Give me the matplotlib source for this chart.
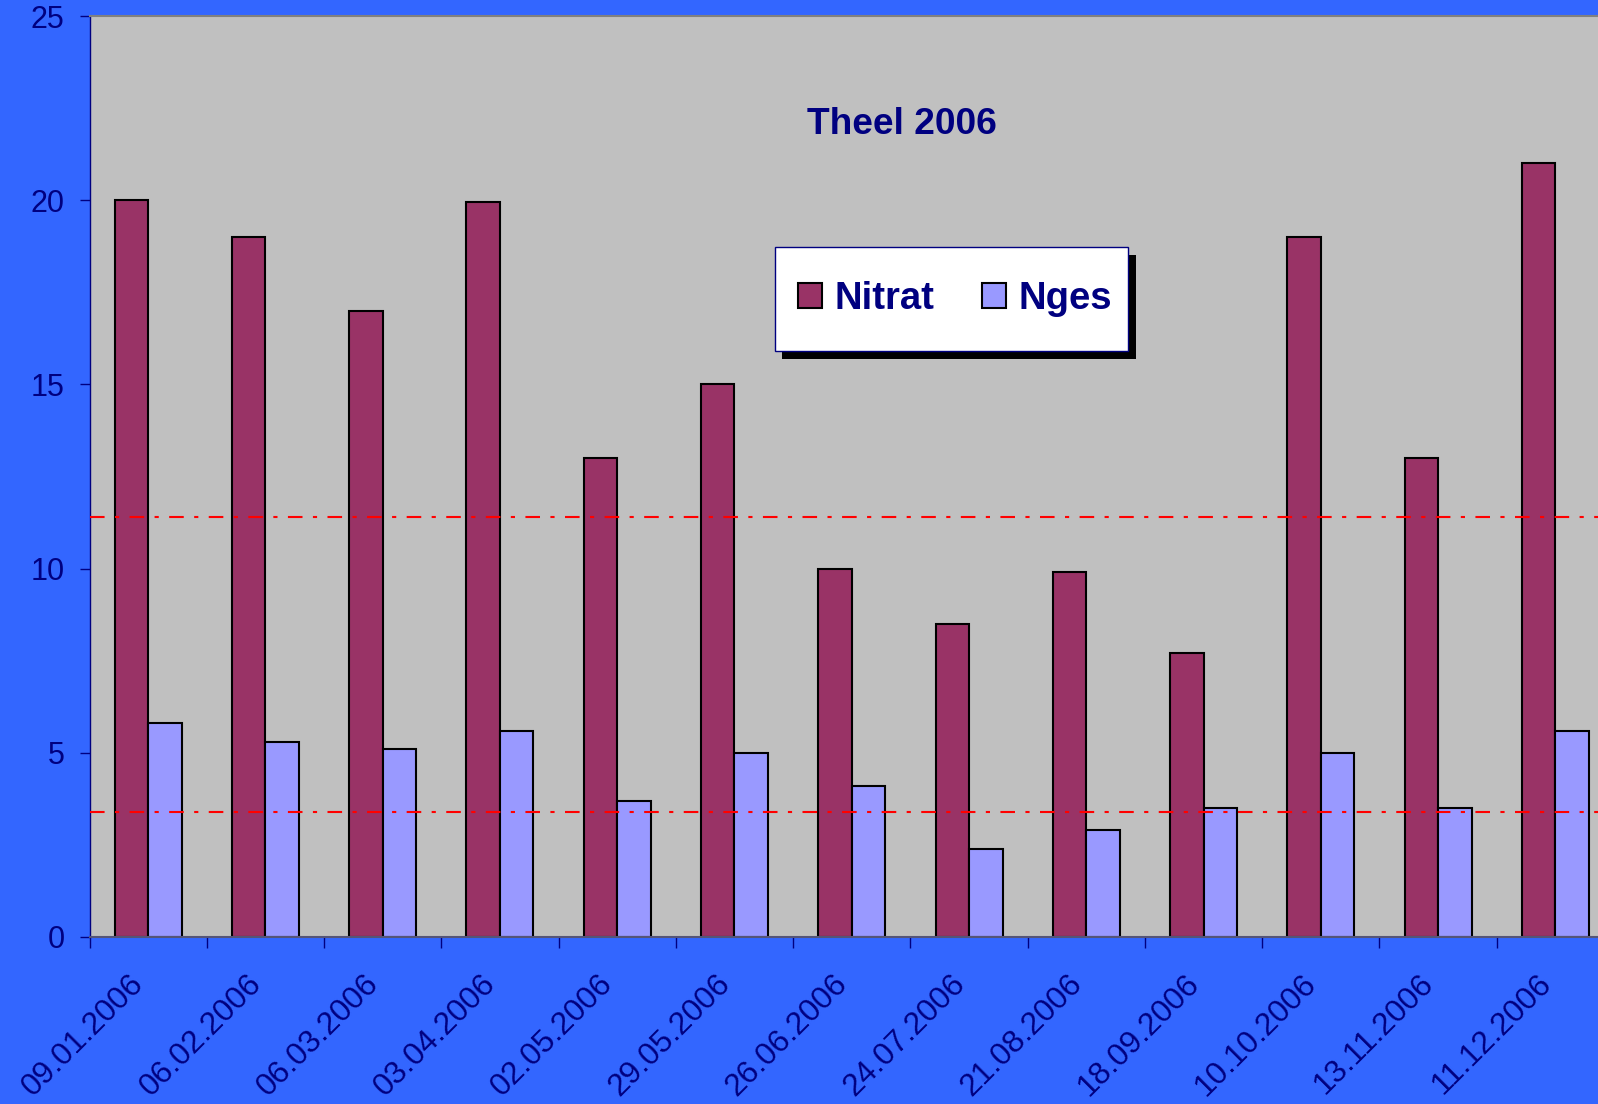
import matplotlib
matplotlib.use("Agg")
import matplotlib.pyplot as plt
import numpy as np
from matplotlib.patches import Rectangle
from matplotlib.transforms import ScaledTranslation

dates = ["09.01.2006", "06.02.2006", "06.03.2006", "03.04.2006", "02.05.2006",
         "29.05.2006", "26.06.2006", "24.07.2006", "21.08.2006", "18.09.2006",
         "10.10.2006", "13.11.2006", "11.12.2006"]
nitrat = [20, 19, 17, 19.95, 13, 15, 10, 8.5, 9.9, 7.7, 19, 13, 21]
nges = [5.8, 5.3, 5.1, 5.6, 3.7, 5.0, 4.1, 2.4, 2.9, 3.5, 5.0, 3.5, 5.6]
ref_lines = [11.4, 3.4]
yticks = [0, 5, 10, 15, 20, 25]
title = "Theel 2006"

NAVY = "#000080"
BG = "#3366FF"
PLOT_BG = "#C0C0C0"
C_NITRAT = "#993366"
C_NGES = "#9999FF"

plt.rcParams['font.family'] = ['Liberation Sans', 'DejaVu Sans']

W, H = 1598, 1104
fig = plt.figure(figsize=(W / 100, H / 100), dpi=100, facecolor=BG)
left_px, right_px, top_px, bot_px = 89.5, 1614, 16, 937
ax = fig.add_axes([left_px / W, 1 - bot_px / H, (right_px - left_px) / W, (bot_px - top_px) / H])
ax.set_facecolor(PLOT_BG)

n = len(dates)
x = np.arange(n)
bw = 1 / 3.5
ax.bar(x - bw / 2, nitrat, bw, color=C_NITRAT, edgecolor="black", linewidth=1.5, label="Nitrat", zorder=2)
ax.bar(x + bw / 2, nges, bw, color=C_NGES, edgecolor="black", linewidth=1.5, label="Nges", zorder=2)

for v in ref_lines:
    ax.axhline(v, color="#FF0000", linewidth=1.5, dashes=(7, 5, 2, 5), zorder=3)

ax.set_xlim(-0.5, n - 0.5)
ax.set_ylim(0, 25)
ax.set_yticks(yticks)
ax.set_yticklabels([str(t) for t in yticks])

ax.set_xticks(np.arange(n + 1) - 0.5)
ax.set_xticklabels([])
ax.set_xticks(x, minor=True)
ax.set_xticklabels(dates, minor=True, rotation=45, ha="right", va="top")

ax.tick_params(axis="y", which="major", direction="out", length=7.2, width=1, color=NAVY,
               labelcolor=NAVY, labelsize=22, pad=10.8)
ax.tick_params(axis="x", which="major", direction="out", length=8, width=1, color=NAVY)
ax.tick_params(axis="x", which="minor", length=0, labelcolor=NAVY, labelsize=22.8, pad=23)
off = ScaledTranslation(2 / 100, 0, fig.dpi_scale_trans)
for lab in ax.get_xticklabels(minor=True):
    lab.set_transform(lab.get_transform() + off)

for s in ["top", "right"]:
    ax.spines[s].set_color("#808080")
    ax.spines[s].set_linewidth(1.5)
ax.spines["left"].set_color(NAVY)
ax.spines["left"].set_linewidth(1)
ax.spines["bottom"].set_color("#555577")
ax.spines["bottom"].set_linewidth(1.5)

fig.text(902 / W, 1 - 124 / H, title, ha="center", va="center", fontsize=26.7,
         fontweight="bold", color=NAVY)

# legend box (frame + shadow drawn as figure-pixel rectangles)
bx0, by0, bx1, by1 = 774.5, 246.7, 1128.3, 350.7
fig.patches.append(Rectangle((bx0 + 7.5, H - by1 - 8), bx1 - bx0, by1 - by0, transform=None,
                             facecolor="black", edgecolor="none", zorder=5))
fig.patches.append(Rectangle((bx0, H - by1), bx1 - bx0, by1 - by0, transform=None,
                             facecolor="white", edgecolor=NAVY, linewidth=1, zorder=6))
handles, labels = ax.get_legend_handles_labels()
leg = fig.legend(handles, labels, loc="center",
                 bbox_to_anchor=((bx0 + bx1) / 2 / W + 3.5 / W, 1 - (by0 + by1) / 2 / H),
                 ncol=2, prop={"weight": "bold", "size": 27.5}, frameon=False,
                 borderpad=0, borderaxespad=0, handlelength=0.64, handleheight=0.64,
                 handletextpad=0.32, columnspacing=1.25, labelcolor=NAVY)
leg.set_zorder(7)

fig.savefig("out.png", dpi=100, facecolor=BG)
